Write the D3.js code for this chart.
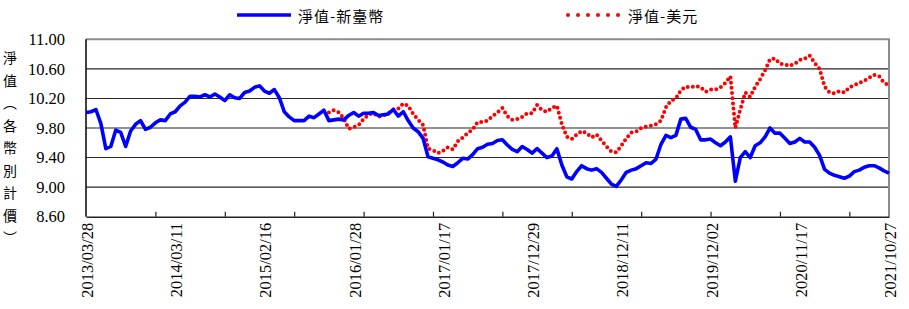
<!DOCTYPE html>
<html>
<head>
<meta charset="utf-8">
<script src="https://cdn.jsdelivr.net/npm/d3@7/dist/d3.min.js"></script>
<style>
  body { margin: 0; background: #fff; }
</style>
</head>
<body>
<script>
// category labels shown every 18 samples, inner ticks every 14 samples
const dateLabels = ['2013/03/28', '2014/03/11', '2015/02/16', '2016/01/28', '2017/01/17',
  '2017/12/29', '2018/12/11', '2019/12/02', '2020/11/17', '2021/10/27'];
const labelStep = 18;
const tickStep = 14;
const yTicks = [8.6, 9.0, 9.4, 9.8, 10.2, 10.6, 11.0];

const seriesNames = ['淨值-新臺幣', '淨值-美元'];
const yTitle = ['淨', '值', '︵', '各', '幣', '別', '計', '價', '︶'];

// NAV in TWD, one value per sample
const navTwd = [
  10.01, 10.02, 10.05, 9.86, 9.52, 9.55, 9.77, 9.74, 9.55, 9.76,
  9.85, 9.90, 9.78, 9.81, 9.87, 9.91, 9.90, 9.99, 10.02, 10.10,
  10.15, 10.23, 10.23, 10.22, 10.25, 10.22, 10.26, 10.22, 10.17, 10.25,
  10.21, 10.20, 10.28, 10.30, 10.35, 10.37, 10.30, 10.27, 10.32, 10.21,
  10.02, 9.95, 9.90, 9.90, 9.90, 9.96, 9.94, 9.99, 10.04, 9.90,
  9.91, 9.92, 9.91, 9.97, 10.01, 9.96, 10.00, 10.00, 10.01, 9.97,
  9.98, 9.99, 10.05, 9.96, 10.02, 9.90, 9.80, 9.75, 9.66, 9.41,
  9.39, 9.37, 9.34, 9.30, 9.28, 9.33, 9.39, 9.38, 9.44, 9.52,
  9.54, 9.58, 9.59, 9.63, 9.64, 9.57, 9.51, 9.48, 9.55, 9.51,
  9.46, 9.52, 9.46, 9.40, 9.42, 9.52, 9.30, 9.14, 9.11, 9.21,
  9.29, 9.25, 9.23, 9.25, 9.20, 9.12, 9.04, 9.01, 9.10, 9.20,
  9.23, 9.25, 9.29, 9.33, 9.32, 9.38, 9.58, 9.70, 9.67, 9.70,
  9.92, 9.93, 9.81, 9.78, 9.64, 9.64, 9.65, 9.60, 9.56, 9.61,
  9.68, 9.08, 9.40, 9.48, 9.40, 9.56, 9.60, 9.68, 9.80, 9.73,
  9.73, 9.66, 9.59, 9.61, 9.66, 9.61, 9.61, 9.54, 9.43, 9.24,
  9.19, 9.16, 9.14, 9.12, 9.15, 9.21, 9.23, 9.27, 9.29, 9.29,
  9.26, 9.22, 9.19
];

// NAV in USD, starts later (first sample index below)
const usdStart = 49;
const navUsd = [
  10.01, 10.04, 10.01, 9.93, 9.79, 9.81, 9.84, 9.92, 9.98, 10.00,
  9.95, 9.97, 10.00, 10.05, 10.06, 10.13, 10.10, 9.99, 9.91, 9.84,
  9.52, 9.50, 9.46, 9.49, 9.54, 9.51, 9.62, 9.67, 9.73, 9.78,
  9.88, 9.88, 9.90, 9.96, 10.01, 10.07, 9.96, 9.91, 9.92, 9.95,
  10.00, 10.00, 10.11, 10.04, 10.02, 10.07, 10.10, 9.85, 9.68, 9.65,
  9.71, 9.76, 9.73, 9.67, 9.71, 9.63, 9.55, 9.48, 9.47, 9.56,
  9.66, 9.74, 9.75, 9.80, 9.82, 9.83, 9.85, 9.90, 10.08, 10.17,
  10.20, 10.31, 10.36, 10.35, 10.37, 10.35, 10.29, 10.32, 10.32, 10.35,
  10.41, 10.50, 9.80, 10.05, 10.28, 10.22, 10.36, 10.46, 10.58, 10.73,
  10.74, 10.67, 10.66, 10.64, 10.67, 10.72, 10.74, 10.78, 10.68, 10.60,
  10.36, 10.28, 10.27, 10.30, 10.28, 10.35, 10.38, 10.41, 10.44, 10.48,
  10.52, 10.50, 10.41, 10.38
];

const W = 909, H = 309;
const margin = { top: 39.3, right: 20, bottom: 92.3, left: 86 };
const width = W - margin.left - margin.right;
const height = H - margin.top - margin.bottom;
const lastIdx = navTwd.length - 1;

const x = d3.scaleLinear().domain([0, lastIdx]).range([0, width]);
const y = d3.scaleLinear().domain([8.6, 11]).range([height, 0]);

const serif = '"Liberation Serif", "Times New Roman", serif';
const cjk = '"Noto Sans CJK TC", "Noto Sans CJK SC", sans-serif';

const svg = d3.select('body').append('svg')
  .attr('width', W).attr('height', H)
  .style('display', 'block');

const g = svg.append('g').attr('transform', 'translate(' + margin.left + ',' + margin.top + ')');

// gridlines
g.append('g').selectAll('line').data(yTicks.slice(1, -1)).join('line')
  .attr('x1', 0).attr('x2', width)
  .attr('y1', d => y(d)).attr('y2', d => y(d))
  .attr('stroke', '#262626').attr('stroke-width', 1.1);

// top and right border
g.append('path')
  .attr('d', 'M0,' + y(11) + 'H' + width + 'V' + height)
  .attr('fill', 'none').attr('stroke', '#8c8c8c').attr('stroke-width', 2);

// y axis labels
const yAxis = g.append('g').call(d3.axisLeft(y).tickValues(yTicks)
  .tickFormat(d3.format('.2f')).tickSize(0).tickPadding(21));
yAxis.select('.domain').remove();
yAxis.selectAll('text').style('font-family', serif).style('font-size', '16.5px').attr('fill', '#000');

// x axis with inner ticks
const tickIdx = d3.range(tickStep, lastIdx, tickStep);
const xAxis = g.append('g').attr('transform', 'translate(0,' + height + ')')
  .call(d3.axisBottom(x).tickValues(tickIdx).tickSize(-5).tickSizeOuter(0).tickFormat(''));
xAxis.select('.domain').attr('stroke', '#222').attr('stroke-width', 1.6);
xAxis.selectAll('.tick line').attr('stroke', '#222').attr('stroke-width', 1.2);

// left axis line
g.append('line').attr('x1', 0).attr('x2', 0).attr('y1', 0).attr('y2', height)
  .attr('stroke', '#111').attr('stroke-width', 1.6);

// rotated date labels
g.append('g').selectAll('text').data(dateLabels).join('text')
  .attr('transform', (d, i) => 'translate(' + (x(i * labelStep) + 1.5) + ',' + (height + 6) + ') rotate(-90)')
  .attr('text-anchor', 'end')
  .attr('dominant-baseline', 'central')
  .style('font-family', serif).style('font-size', '16.5px')
  .text(d => d);

// series lines
const line = d3.line().x(d => x(d[0])).y(d => y(d[1]));
const twdPts = navTwd.map((v, i) => [i, v]);
const usdPts = navUsd.map((v, i) => [i + usdStart, v]);

g.append('path').datum(usdPts)
  .attr('d', line)
  .attr('fill', 'none').attr('stroke', '#ff0000').attr('stroke-width', 4)
  .attr('stroke-linecap', 'round').attr('stroke-dasharray', '0 5.2');

g.append('path').datum(twdPts)
  .attr('d', line)
  .attr('fill', 'none').attr('stroke', '#0000ff').attr('stroke-width', 3.6)
  .attr('stroke-linejoin', 'round');

// y title, stacked vertically
svg.append('g').selectAll('text').data(yTitle).join('text')
  .attr('x', 10).attr('y', (d, i) => 57 + i * 22.5)
  .attr('text-anchor', 'middle').attr('dominant-baseline', 'central')
  .style('font-family', cjk).style('font-size', '14px')
  .text(d => d);

// legend
const legend = svg.append('g');
legend.append('line').attr('x1', 237).attr('x2', 291).attr('y1', 15).attr('y2', 15)
  .attr('stroke', '#0000ff').attr('stroke-width', 3.5);
legend.append('text').attr('x', 298).attr('y', 15).attr('dominant-baseline', 'central')
  .style('font-family', cjk).style('font-size', '15px').style('letter-spacing', '1px')
  .text(seriesNames[0]);
legend.append('line').attr('x1', 568).attr('x2', 620).attr('y1', 15).attr('y2', 15)
  .attr('stroke', '#ff0000').attr('stroke-width', 4)
  .attr('stroke-linecap', 'round').attr('stroke-dasharray', '0 10');
legend.append('text').attr('x', 628).attr('y', 15).attr('dominant-baseline', 'central')
  .style('font-family', cjk).style('font-size', '15px').style('letter-spacing', '1px')
  .text(seriesNames[1]);
</script>
</body>
</html>
